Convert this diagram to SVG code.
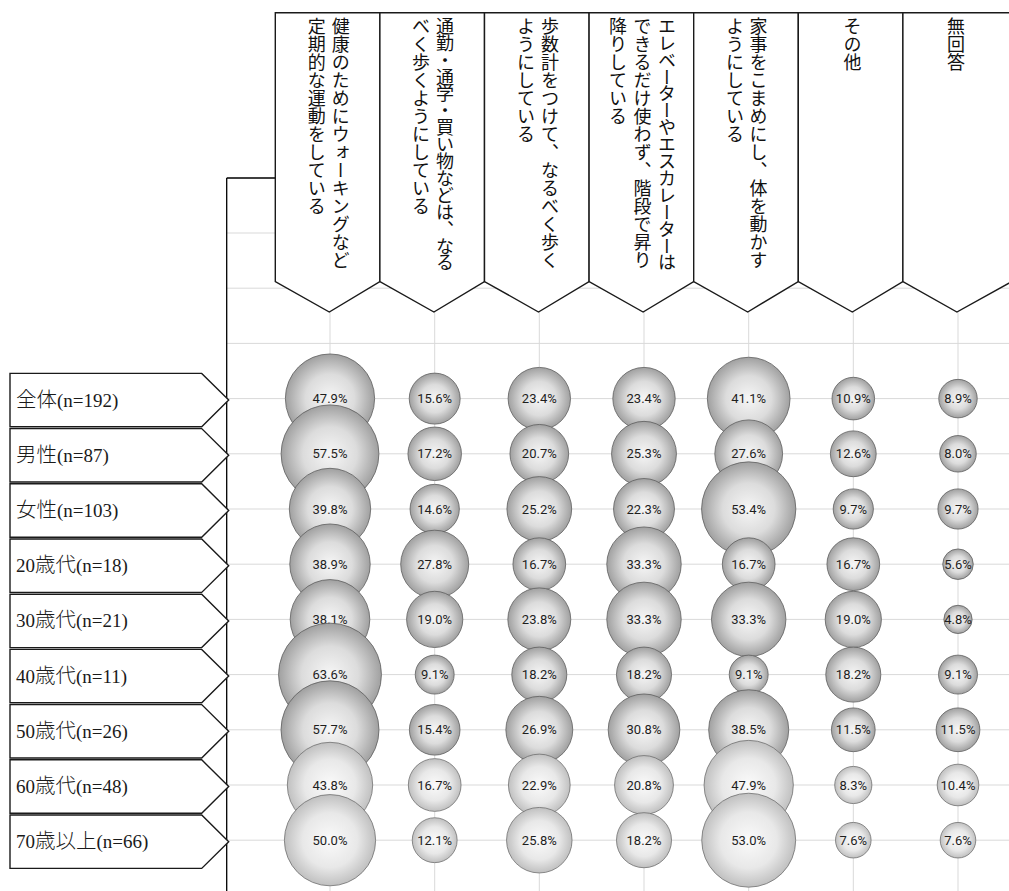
<svg xmlns="http://www.w3.org/2000/svg" width="1009" height="891" viewBox="0 0 1009 891">
<defs>
<radialGradient id="gd" cx="50%" cy="50%" r="50%">
<stop offset="0" stop-color="#f6f6f6"/>
<stop offset="0.55" stop-color="#dcdcdc"/>
<stop offset="1" stop-color="#a0a0a0"/>
</radialGradient>
<radialGradient id="gl" cx="50%" cy="50%" r="50%">
<stop offset="0" stop-color="#fafafa"/>
<stop offset="0.6" stop-color="#e8e8e8"/>
<stop offset="1" stop-color="#c0c0c0"/>
</radialGradient>
</defs>
<style>
.grid{stroke:#d9d9d9;stroke-width:1;fill:none}
.ax{stroke:#000;stroke-width:1.3;fill:none}
.hdr{fill:#fff;stroke:#1a1a1a;stroke-width:1.4;stroke-linejoin:miter}
.ht{font-family:"Noto Sans CJK JP",sans-serif;font-size:18px;fill:#111;writing-mode:vertical-rl}
.tight{letter-spacing:-1.1px}
.rb{fill:#fff;stroke:#1a1a1a;stroke-width:1.4}
.rt{font-family:"Liberation Serif","Noto Sans CJK JP",serif;font-size:19px;font-weight:300;fill:#1a1a1a}
.cj{font-size:20.5px}
.bd{fill:url(#gd);stroke:#5e5e5e;stroke-width:0.8}
.bl{fill:url(#gl);stroke:#707070;stroke-width:0.8}
.bt{font-family:Roboto,"Liberation Sans",sans-serif;font-size:13px;fill:#1e1e1e;text-anchor:middle}
</style>
<rect width="1009" height="891" fill="#fff"/>
<g id="gridlines">
<path class="grid" d="M227 233H1009M227 288.2H1009M227 343.4H1009M227 398.6H1009M227 453.8H1009M227 509H1009M227 564.2H1009M227 619.4H1009M227 674.6H1009M227 729.8H1009M227 785H1009M227 840.2H1009"/>
<path class="grid" d="M330 178V891M434.7 178V891M539.3 178V891M644 178V891M748.7 178V891M853.3 178V891M958 178V891"/>
</g>
<g id="axes">
<path class="ax" d="M226.7 178H1009M226.7 178V891"/>
</g>
<g id="h1"><path class="hdr" d="M275.3 12.7H379.9V281.5L329.3 312L275.3 281.5Z"/>
<text class="ht" x="340.8" y="17">健康のためにウォーキングなど</text><text class="ht" x="316.8" y="17">定期的な運動をしている</text></g>
<g id="h2"><path class="hdr" d="M379.9 12.7H484.5V281.5L433.9 312L379.9 281.5Z"/>
<text class="ht tight" x="445" y="17">通勤・通学・買い物などは、なる</text><text class="ht" x="421" y="17">べく歩くようにしている</text></g>
<g id="h3"><path class="hdr" d="M484.5 12.7H589.1V281.5L538.5 312L484.5 281.5Z"/>
<text class="ht" x="550" y="17">歩数計をつけて、なるべく歩く</text><text class="ht" x="526" y="17">ようにしている</text></g>
<g id="h4"><path class="hdr" d="M589.1 12.7H693.7V281.5L643.1 312L589.1 281.5Z"/>
<text class="ht tight" x="667" y="17">エレベーターやエスカレーターは</text><text class="ht" x="642.5" y="17">できるだけ使わず、階段で昇り</text><text class="ht" x="618" y="17">降りしている</text></g>
<g id="h5"><path class="hdr" d="M693.7 12.7H798.3V281.5L747.7 312L693.7 281.5Z"/>
<text class="ht" x="758.5" y="17">家事をこまめにし、体を動かす</text><text class="ht" x="735" y="17">ようにしている</text></g>
<g id="h6"><path class="hdr" d="M798.3 12.7H902.9V281.5L852.3 312L798.3 281.5Z"/>
<text class="ht" x="852.5" y="17">その他</text></g>
<g id="h7"><path class="hdr" d="M902.9 12.7H1012V281.5L956.9 312L902.9 281.5Z"/>
<text class="ht" x="956" y="17">無回答</text></g>

<g id="r1"><path class="rb" d="M10 373.4H201.7L228.7 400.1L201.7 426.8H10Z"/><text class="rt" x="16" y="406.6"><tspan class="cj">全体</tspan>(n=192)</text></g>
<g id="r2"><path class="rb" d="M10 428.6H201.7L228.7 455.3L201.7 482H10Z"/><text class="rt" x="16" y="461.8"><tspan class="cj">男性</tspan>(n=87)</text></g>
<g id="r3"><path class="rb" d="M10 483.8H201.7L228.7 510.5L201.7 537.2H10Z"/><text class="rt" x="16" y="517"><tspan class="cj">女性</tspan>(n=103)</text></g>
<g id="r4"><path class="rb" d="M10 539H201.7L228.7 565.7L201.7 592.4H10Z"/><text class="rt" x="16" y="572.2">20<tspan class="cj">歳代</tspan>(n=18)</text></g>
<g id="r5"><path class="rb" d="M10 594.2H201.7L228.7 620.9L201.7 647.6H10Z"/><text class="rt" x="16" y="627.4">30<tspan class="cj">歳代</tspan>(n=21)</text></g>
<g id="r6"><path class="rb" d="M10 649.4H201.7L228.7 676.1L201.7 702.8H10Z"/><text class="rt" x="16" y="682.6">40<tspan class="cj">歳代</tspan>(n=11)</text></g>
<g id="r7"><path class="rb" d="M10 704.6H201.7L228.7 731.3L201.7 758H10Z"/><text class="rt" x="16" y="737.8">50<tspan class="cj">歳代</tspan>(n=26)</text></g>
<g id="r8"><path class="rb" d="M10 759.8H201.7L228.7 786.5L201.7 813.2H10Z"/><text class="rt" x="16" y="793">60<tspan class="cj">歳代</tspan>(n=48)</text></g>
<g id="r9"><path class="rb" d="M10 815H201.7L228.7 841.7L201.7 868.4H10Z"/><text class="rt" x="16" y="848.2">70<tspan class="cj">歳以上</tspan>(n=66)</text></g>

<g id="c1">
<g id="b1-1"><circle class="bd" cx="330" cy="398.6" r="44.64"/><text class="bt" x="330" y="403.2">47.9%</text></g>
<g id="b2-1"><circle class="bd" cx="330" cy="453.8" r="48.91"/><text class="bt" x="330" y="458.4">57.5%</text></g>
<g id="b3-1"><circle class="bd" cx="330" cy="509" r="40.69"/><text class="bt" x="330" y="513.6">39.8%</text></g>
<g id="b4-1"><circle class="bd" cx="330" cy="564.2" r="40.23"/><text class="bt" x="330" y="568.8">38.9%</text></g>
<g id="b5-1"><circle class="bd" cx="330" cy="619.4" r="39.81"/><text class="bt" x="330" y="624">38.1%</text></g>
<g id="b6-1"><circle class="bd" cx="330" cy="674.6" r="51.44"/><text class="bt" x="330" y="679.2">63.6%</text></g>
<g id="b7-1"><circle class="bd" cx="330" cy="729.8" r="48.99"/><text class="bt" x="330" y="734.4">57.7%</text></g>
<g id="b8-1"><circle class="bl" cx="330" cy="785" r="42.69"/><text class="bt" x="330" y="789.6">43.8%</text></g>
<g id="b9-1"><circle class="bl" cx="330" cy="840.2" r="45.61"/><text class="bt" x="330" y="844.8">50.0%</text></g>
</g>
<g id="c2">
<g id="b1-2"><circle class="bd" cx="434.7" cy="398.6" r="25.48"/><text class="bt" x="434.7" y="403.2">15.6%</text></g>
<g id="b2-2"><circle class="bd" cx="434.7" cy="453.8" r="26.75"/><text class="bt" x="434.7" y="458.4">17.2%</text></g>
<g id="b3-2"><circle class="bd" cx="434.7" cy="509" r="24.65"/><text class="bt" x="434.7" y="513.6">14.6%</text></g>
<g id="b4-2"><circle class="bd" cx="434.7" cy="564.2" r="34.01"/><text class="bt" x="434.7" y="568.8">27.8%</text></g>
<g id="b5-2"><circle class="bd" cx="434.7" cy="619.4" r="28.11"/><text class="bt" x="434.7" y="624">19.0%</text></g>
<g id="b6-2"><circle class="bd" cx="434.7" cy="674.6" r="19.46"/><text class="bt" x="434.7" y="679.2">9.1%</text></g>
<g id="b7-2"><circle class="bd" cx="434.7" cy="729.8" r="25.31"/><text class="bt" x="434.7" y="734.4">15.4%</text></g>
<g id="b8-2"><circle class="bl" cx="434.7" cy="785" r="26.36"/><text class="bt" x="434.7" y="789.6">16.7%</text></g>
<g id="b9-2"><circle class="bl" cx="434.7" cy="840.2" r="22.44"/><text class="bt" x="434.7" y="844.8">12.1%</text></g>
</g>
<g id="c3">
<g id="b1-3"><circle class="bd" cx="539.3" cy="398.6" r="31.2"/><text class="bt" x="539.3" y="403.2">23.4%</text></g>
<g id="b2-3"><circle class="bd" cx="539.3" cy="453.8" r="29.35"/><text class="bt" x="539.3" y="458.4">20.7%</text></g>
<g id="b3-3"><circle class="bd" cx="539.3" cy="509" r="32.38"/><text class="bt" x="539.3" y="513.6">25.2%</text></g>
<g id="b4-3"><circle class="bd" cx="539.3" cy="564.2" r="26.36"/><text class="bt" x="539.3" y="568.8">16.7%</text></g>
<g id="b5-3"><circle class="bd" cx="539.3" cy="619.4" r="31.47"/><text class="bt" x="539.3" y="624">23.8%</text></g>
<g id="b6-3"><circle class="bd" cx="539.3" cy="674.6" r="27.52"/><text class="bt" x="539.3" y="679.2">18.2%</text></g>
<g id="b7-3"><circle class="bd" cx="539.3" cy="729.8" r="33.45"/><text class="bt" x="539.3" y="734.4">26.9%</text></g>
<g id="b8-3"><circle class="bl" cx="539.3" cy="785" r="30.87"/><text class="bt" x="539.3" y="789.6">22.9%</text></g>
<g id="b9-3"><circle class="bl" cx="539.3" cy="840.2" r="32.76"/><text class="bt" x="539.3" y="844.8">25.8%</text></g>
</g>
<g id="c4">
<g id="b1-4"><circle class="bd" cx="644" cy="398.6" r="31.2"/><text class="bt" x="644" y="403.2">23.4%</text></g>
<g id="b2-4"><circle class="bd" cx="644" cy="453.8" r="32.44"/><text class="bt" x="644" y="458.4">25.3%</text></g>
<g id="b3-4"><circle class="bd" cx="644" cy="509" r="30.46"/><text class="bt" x="644" y="513.6">22.3%</text></g>
<g id="b4-4"><circle class="bd" cx="644" cy="564.2" r="37.22"/><text class="bt" x="644" y="568.8">33.3%</text></g>
<g id="b5-4"><circle class="bd" cx="644" cy="619.4" r="37.22"/><text class="bt" x="644" y="624">33.3%</text></g>
<g id="b6-4"><circle class="bd" cx="644" cy="674.6" r="27.52"/><text class="bt" x="644" y="679.2">18.2%</text></g>
<g id="b7-4"><circle class="bd" cx="644" cy="729.8" r="35.8"/><text class="bt" x="644" y="734.4">30.8%</text></g>
<g id="b8-4"><circle class="bl" cx="644" cy="785" r="29.42"/><text class="bt" x="644" y="789.6">20.8%</text></g>
<g id="b9-4"><circle class="bl" cx="644" cy="840.2" r="27.52"/><text class="bt" x="644" y="844.8">18.2%</text></g>
</g>
<g id="c5">
<g id="b1-5"><circle class="bd" cx="748.7" cy="398.6" r="41.35"/><text class="bt" x="748.7" y="403.2">41.1%</text></g>
<g id="b2-5"><circle class="bd" cx="748.7" cy="453.8" r="33.89"/><text class="bt" x="748.7" y="458.4">27.6%</text></g>
<g id="b3-5"><circle class="bd" cx="748.7" cy="509" r="47.13"/><text class="bt" x="748.7" y="513.6">53.4%</text></g>
<g id="b4-5"><circle class="bd" cx="748.7" cy="564.2" r="26.36"/><text class="bt" x="748.7" y="568.8">16.7%</text></g>
<g id="b5-5"><circle class="bd" cx="748.7" cy="619.4" r="37.22"/><text class="bt" x="748.7" y="624">33.3%</text></g>
<g id="b6-5"><circle class="bd" cx="748.7" cy="674.6" r="19.46"/><text class="bt" x="748.7" y="679.2">9.1%</text></g>
<g id="b7-5"><circle class="bd" cx="748.7" cy="729.8" r="40.02"/><text class="bt" x="748.7" y="734.4">38.5%</text></g>
<g id="b8-5"><circle class="bl" cx="748.7" cy="785" r="44.64"/><text class="bt" x="748.7" y="789.6">47.9%</text></g>
<g id="b9-5"><circle class="bl" cx="748.7" cy="840.2" r="46.96"/><text class="bt" x="748.7" y="844.8">53.0%</text></g>
</g>
<g id="c6">
<g id="b1-6"><circle class="bd" cx="853.3" cy="398.6" r="21.29"/><text class="bt" x="853.3" y="403.2">10.9%</text></g>
<g id="b2-6"><circle class="bd" cx="853.3" cy="453.8" r="22.9"/><text class="bt" x="853.3" y="458.4">12.6%</text></g>
<g id="b3-6"><circle class="bd" cx="853.3" cy="509" r="20.09"/><text class="bt" x="853.3" y="513.6">9.7%</text></g>
<g id="b4-6"><circle class="bd" cx="853.3" cy="564.2" r="26.36"/><text class="bt" x="853.3" y="568.8">16.7%</text></g>
<g id="b5-6"><circle class="bd" cx="853.3" cy="619.4" r="28.11"/><text class="bt" x="853.3" y="624">19.0%</text></g>
<g id="b6-6"><circle class="bd" cx="853.3" cy="674.6" r="27.52"/><text class="bt" x="853.3" y="679.2">18.2%</text></g>
<g id="b7-6"><circle class="bd" cx="853.3" cy="729.8" r="21.87"/><text class="bt" x="853.3" y="734.4">11.5%</text></g>
<g id="b8-6"><circle class="bl" cx="853.3" cy="785" r="18.58"/><text class="bt" x="853.3" y="789.6">8.3%</text></g>
<g id="b9-6"><circle class="bl" cx="853.3" cy="840.2" r="17.78"/><text class="bt" x="853.3" y="844.8">7.6%</text></g>
</g>
<g id="c7">
<g id="b1-7"><circle class="bd" cx="958" cy="398.6" r="19.24"/><text class="bt" x="958" y="403.2">8.9%</text></g>
<g id="b2-7"><circle class="bd" cx="958" cy="453.8" r="18.24"/><text class="bt" x="958" y="458.4">8.0%</text></g>
<g id="b3-7"><circle class="bd" cx="958" cy="509" r="20.09"/><text class="bt" x="958" y="513.6">9.7%</text></g>
<g id="b4-7"><circle class="bd" cx="958" cy="564.2" r="15.26"/><text class="bt" x="958" y="568.8">5.6%</text></g>
<g id="b5-7"><circle class="bd" cx="958" cy="619.4" r="14.13"/><text class="bt" x="958" y="624">4.8%</text></g>
<g id="b6-7"><circle class="bd" cx="958" cy="674.6" r="19.46"/><text class="bt" x="958" y="679.2">9.1%</text></g>
<g id="b7-7"><circle class="bd" cx="958" cy="729.8" r="21.87"/><text class="bt" x="958" y="734.4">11.5%</text></g>
<g id="b8-7"><circle class="bl" cx="958" cy="785" r="20.8"/><text class="bt" x="958" y="789.6">10.4%</text></g>
<g id="b9-7"><circle class="bl" cx="958" cy="840.2" r="17.78"/><text class="bt" x="958" y="844.8">7.6%</text></g>
</g>
</svg>
